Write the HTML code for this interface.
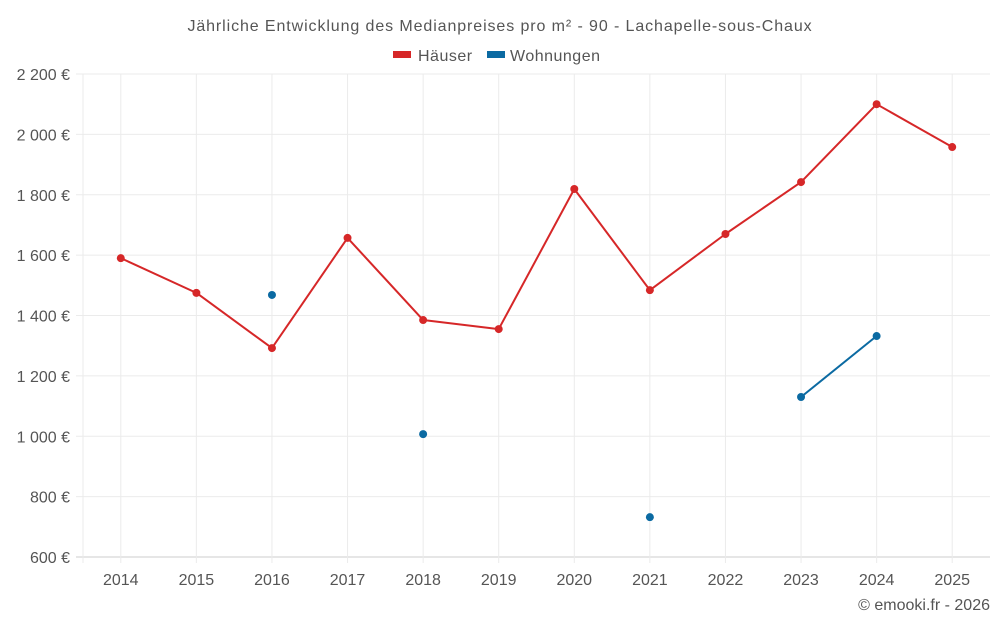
<!DOCTYPE html>
<html><head><meta charset="utf-8"><style>
body{margin:0;background:#fff;font-family:"Liberation Sans",sans-serif;}
svg text{font-family:"Liberation Sans",sans-serif;}
</style></head><body>
<svg id="c" width="1000" height="625">
<text x="500" y="31" text-anchor="middle" font-size="16" letter-spacing="0.9" fill="#555">Jährliche Entwicklung des Medianpreises pro m² - 90 - Lachapelle-sous-Chaux</text>
<g><rect x="393" y="51" width="18" height="7" fill="#d62728"/><text x="418" y="61" font-size="16" letter-spacing="0.5" fill="#555">Häuser</text></g>
<g><rect x="487" y="51" width="18" height="7" fill="#0b6aa2"/><text x="510" y="61" font-size="16" letter-spacing="0.5" fill="#555">Wohnungen</text></g>
<text x="990" y="610" text-anchor="end" font-size="16" fill="#555">© emooki.fr - 2026</text>
<g id="grid"></g><g id="marks"></g>
</svg>
<script>
const years=[2014,2015,2016,2017,2018,2019,2020,2021,2022,2023,2024,2025];
const yTicks=[600,800,1000,1200,1400,1600,1800,2000,2200];
const yTickLabels=["600 €","800 €","1 000 €","1 200 €","1 400 €","1 600 €","1 800 €","2 000 €","2 200 €"];
const haeuser=[1590,1475,1292,1657,1385,1355,1819,1484,1670,1842,2100,1958];
const wohnungen=[null,null,1468,null,1007,null,null,732,null,1130,1332,null];
const L=83,R=990,T=74,B=557,ymin=600,ymax=2200;
const bw=(R-L)/years.length;
const xS=i=>L+bw*(i+0.5);
const yS=v=>B-(v-ymin)/(ymax-ymin)*(B-T);
const NS="http://www.w3.org/2000/svg";
const g=document.getElementById('grid'),m=document.getElementById('marks');
function el(t,a,p){const e=document.createElementNS(NS,t);for(const k in a)e.setAttribute(k,a[k]);p.appendChild(e);return e;}
yTicks.forEach((v,i)=>{
 const l=el('line',{x1:76,x2:R,y1:yS(v),y2:yS(v),stroke:i==0?'#ccc':'#ebebeb'},g);
 
 
 const t=el('text',{x:70,y:yS(v)+6,'text-anchor':'end','font-size':16,fill:'#555'},g);t.textContent=yTickLabels[i];
 
 
});
const ax=el('line',{x1:L,x2:L,y1:T,y2:B+6,stroke:'#ebebeb'},g);


years.forEach((y,i)=>{
 const l=el('line',{x1:xS(i),x2:xS(i),y1:T,y2:B+6,stroke:'#ebebeb'},g);
 
 
 const t=el('text',{x:xS(i),y:585,'text-anchor':'middle','font-size':16,fill:'#555'},g);t.textContent=y;
 
 
});
function series(vals,color,name){
 for(let i=0;i<vals.length-1;i++){
  if(vals[i]!=null&&vals[i+1]!=null){
   const l=el('line',{x1:xS(i),y1:yS(vals[i]),x2:xS(i+1),y2:yS(vals[i+1]),stroke:color,'stroke-width':2},m);
   
   
  }
 }
 vals.forEach((v,i)=>{if(v==null)return;
  const c=el('circle',{cx:xS(i),cy:yS(v),r:4,fill:color},m);
  
  
 });
}
series(haeuser,'#d62728','haeuser');
series(wohnungen,'#0b6aa2','wohnungen');
</script>
</body></html>
